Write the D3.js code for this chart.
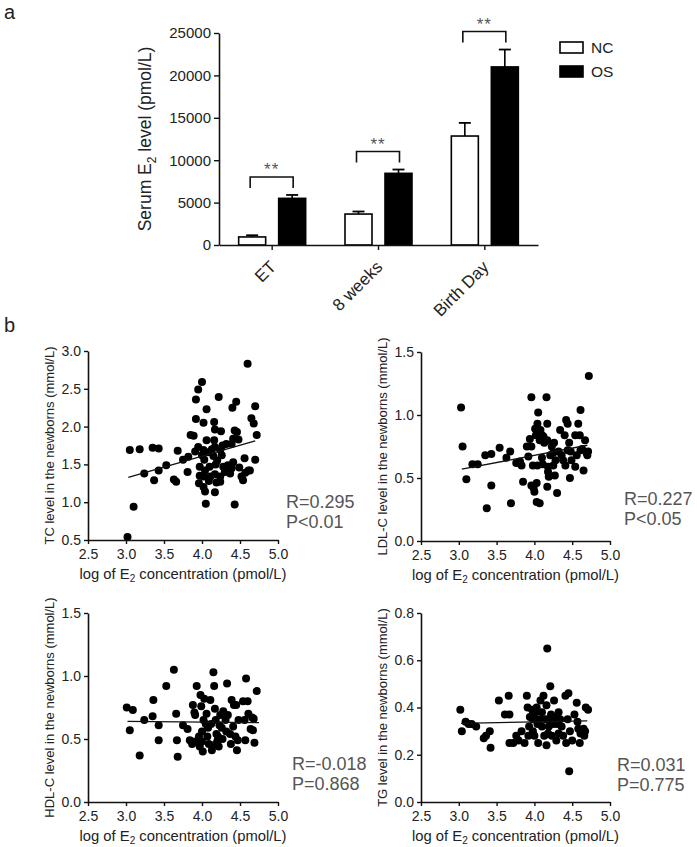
<!DOCTYPE html>
<html>
<head>
<meta charset="utf-8">
<script src="https://cdn.jsdelivr.net/npm/d3@7"></script>
<style>
  html, body { margin: 0; padding: 0; background: #fff; }
  svg { display: block; font-family: "Liberation Sans", Arial, sans-serif; }
</style>
</head>
<body>
<svg id="chart" width="697" height="847"></svg>
<script>
// ---------- Panel a data ----------
const categories = ["ET", "8 weeks", "Birth Day"];
const groups = ["NC", "OS"];
const ncMean = [950, 3650, 12850];
const ncErr = [200, 300, 1550];
const osMean = [5500, 8450, 21000];
const osErr = [400, 450, 2050];
const sigLabels = ["**", "**", "**"];
const yTicksA = [0, 5000, 10000, 15000, 20000, 25000];

// ---------- Panel b data ----------
const xTicksB = [2.5, 3.0, 3.5, 4.0, 4.5, 5.0];

const tcPoints = [
  [3.02,0.54],[3.05,1.69],[3.10,0.94],[3.18,1.70],[3.24,1.38],[3.35,1.72],[3.43,1.71],[3.37,1.29],
  [3.43,1.42],[3.53,1.49],[3.63,1.30],[3.66,1.27],[3.68,1.68],[3.75,1.56],[3.82,1.60],[3.81,1.40],
  [3.85,1.89],[3.89,1.88],[3.92,2.36],[3.92,2.10],[3.95,2.49],[4.00,2.59],[4.02,2.05],[4.06,2.23],
  [3.91,1.67],[3.95,1.73],[3.97,1.47],[3.97,1.35],[3.96,1.25],[4.00,1.62],[4.02,1.69],[4.03,1.56],
  [4.04,1.42],[4.02,1.34],[4.02,1.20],[4.04,1.14],[4.05,0.98],[4.06,1.82],[4.08,1.66],[4.10,1.47],
  [4.11,1.34],[4.15,1.61],[4.16,2.06],[4.17,1.96],[4.16,1.82],[4.17,1.73],[4.18,1.50],[4.17,1.37],
  [4.19,1.26],[4.17,1.13],[4.22,2.39],[4.24,1.69],[4.24,1.34],[4.24,1.27],[4.25,1.94],[4.27,1.75],
  [4.28,1.47],[4.30,1.40],[4.32,1.77],[4.34,1.49],[4.37,1.38],[4.39,1.45],[4.39,1.77],[4.41,1.84],
  [4.43,1.95],[4.41,1.53],[4.40,2.25],[4.45,2.33],[4.43,0.97],[4.46,1.93],[4.48,1.83],[4.49,1.46],
  [4.56,1.58],[4.57,1.39],[4.54,1.29],[4.60,2.83],[4.61,1.42],[4.65,2.11],[4.68,2.04],[4.70,2.27],
  [4.72,1.89],[4.70,1.56],[4.63,1.42],[4.52,1.34],[4.13,1.70],[4.20,1.55],[4.09,1.28],[4.26,1.62]
];
const tcFitX = [3.03, 4.70];
const tcFitY = [1.33, 1.81];

const ldlPoints = [
  [3.03,1.06],[3.05,0.75],[3.10,0.49],[3.18,0.61],[3.25,0.61],[3.35,0.68],[3.43,0.69],[3.37,0.26],
  [3.43,0.44],[3.54,0.74],[3.63,0.66],[3.68,0.71],[3.69,0.30],[3.76,0.62],[3.81,0.63],[3.83,0.60],
  [3.85,0.47],[3.90,0.75],[3.92,0.67],[3.94,0.81],[3.96,0.75],[3.96,1.14],[3.96,0.44],[3.99,0.42],
  [4.00,0.39],[3.98,0.60],[4.01,0.89],[4.02,0.84],[4.03,0.46],[4.04,0.60],[4.04,0.93],[4.05,1.02],
  [4.07,0.80],[4.08,0.88],[4.10,0.84],[4.11,0.61],[4.03,0.31],[4.07,0.30],[4.10,0.66],[4.12,0.83],
  [4.16,1.14],[4.17,0.93],[4.17,0.80],[4.18,0.59],[4.18,0.55],[4.19,0.51],[4.17,0.43],[4.23,0.75],
  [4.25,0.70],[4.26,0.78],[4.25,0.60],[4.27,0.52],[4.28,0.64],[4.30,0.38],[4.34,0.88],[4.36,0.68],
  [4.38,0.64],[4.40,0.84],[4.41,0.60],[4.42,0.96],[4.44,0.93],[4.46,0.78],[4.47,0.50],[4.48,0.71],
  [4.49,0.64],[4.54,0.84],[4.54,0.59],[4.56,0.68],[4.58,0.93],[4.60,0.84],[4.61,1.04],[4.63,0.73],
  [4.65,0.56],[4.67,0.80],[4.69,0.70],[4.71,0.71],[4.72,1.31],[4.70,0.68],[4.61,0.72],[4.44,0.72],
  [4.32,0.71],[4.21,0.68],[4.13,0.78]
];
const ldlFitX = [3.04, 4.70];
const ldlFitY = [0.57, 0.76];

const hdlPoints = [
  [3.01,0.75],[3.09,0.73],[3.05,0.57],[3.18,0.37],[3.24,0.65],[3.36,0.81],[3.35,0.68],[3.43,0.61],
  [3.43,0.49],[3.53,0.92],[3.63,1.05],[3.66,0.70],[3.67,0.49],[3.68,0.36],[3.75,0.61],[3.81,0.58],
  [3.84,0.49],[3.87,0.46],[3.88,0.77],[3.90,0.71],[3.91,0.69],[3.93,0.92],[3.96,0.52],[3.97,0.44],
  [3.98,0.85],[3.99,0.76],[4.00,0.56],[4.01,0.40],[4.02,0.65],[4.03,0.82],[4.06,0.70],[4.07,0.52],
  [4.09,0.46],[4.11,0.81],[4.12,0.62],[4.13,0.41],[4.15,1.03],[4.16,0.92],[4.17,0.74],[4.18,0.65],
  [4.19,0.54],[4.20,0.48],[4.22,0.44],[4.23,0.61],[4.24,0.69],[4.26,0.59],[4.27,0.50],[4.28,0.72],
  [4.31,0.65],[4.33,0.94],[4.34,0.69],[4.37,0.54],[4.38,0.46],[4.39,0.81],[4.41,0.60],[4.42,0.77],
  [4.44,0.52],[4.45,0.77],[4.46,0.41],[4.47,0.49],[4.48,0.65],[4.54,0.80],[4.56,0.65],[4.57,0.49],
  [4.58,0.98],[4.60,0.80],[4.61,0.70],[4.64,0.58],[4.66,0.67],[4.68,0.66],[4.69,0.47],[4.72,0.88],
  [4.67,0.57],[4.08,0.59],[4.21,0.52],[4.32,0.56],[4.00,0.48],[3.91,0.48],[4.15,0.45],[4.05,0.62]
];
const hdlFitX = [3.02, 4.75];
const hdlFitY = [0.64, 0.63];

const tgPoints = [
  [3.02,0.39],[3.04,0.30],[3.09,0.34],[3.13,0.33],[3.17,0.33],[3.23,0.32],[3.33,0.27],[3.36,0.28],
  [3.41,0.30],[3.42,0.23],[3.53,0.43],[3.61,0.37],[3.66,0.45],[3.67,0.37],[3.67,0.25],[3.72,0.25],
  [3.76,0.28],[3.79,0.26],[3.83,0.30],[3.87,0.25],[3.90,0.45],[3.91,0.40],[3.93,0.32],[3.94,0.36],
  [3.97,0.39],[3.98,0.30],[4.00,0.28],[4.01,0.35],[4.02,0.38],[4.04,0.33],[4.05,0.25],[4.08,0.43],
  [4.08,0.35],[4.10,0.32],[4.12,0.45],[4.13,0.28],[4.16,0.41],[4.16,0.24],[4.17,0.65],[4.19,0.35],
  [4.19,0.32],[4.21,0.49],[4.22,0.37],[4.23,0.28],[4.25,0.33],[4.26,0.43],[4.27,0.36],[4.29,0.26],
  [4.32,0.29],[4.34,0.35],[4.36,0.32],[4.41,0.45],[4.42,0.25],[4.44,0.35],[4.45,0.46],[4.46,0.13],
  [4.47,0.30],[4.53,0.37],[4.56,0.42],[4.57,0.34],[4.58,0.31],[4.60,0.25],[4.61,0.29],[4.65,0.31],
  [4.66,0.28],[4.67,0.30],[4.68,0.40],[4.71,0.39],[3.98,0.35],[4.15,0.35],[4.30,0.33],[4.03,0.40],
  [3.99,0.38],[3.92,0.28],[4.38,0.28],[4.50,0.26],[4.10,0.38],[4.18,0.29],[4.32,0.38]
];
const tgFitX = [3.03, 4.70];
const tgFitY = [0.333, 0.343];

// ---------- Drawing ----------
const svg = d3.select("#chart");
const FONT = "'Liberation Sans', Arial, sans-serif";

function styleAxis(g, fontSize) {
  g.select(".domain").attr("stroke", "#111").attr("stroke-width", 1.6);
  g.selectAll(".tick line").attr("stroke", "#111").attr("stroke-width", 1.4);
  g.selectAll(".tick text").attr("fill", "#222").attr("font-size", fontSize).attr("font-family", FONT);
}

// Panel labels
svg.append("text").attr("x", 4).attr("y", 19).attr("font-size", 20).attr("fill", "#222").text("a");
svg.append("text").attr("x", 4).attr("y", 332).attr("font-size", 20).attr("fill", "#222").text("b");

// ===== Panel a: bar chart =====
(function () {
  const x = d3.scaleBand().domain(categories).range([219, 538]).paddingInner(0).paddingOuter(0);
  const xg = d3.scaleBand().domain(groups).range([-33.5, 33.5]).paddingInner(0.325);
  const y = d3.scaleLinear().domain([0, 25000]).range([245, 33]);

  const g = svg.append("g");

  const means = { NC: ncMean, OS: osMean };
  const errs = { NC: ncErr, OS: osErr };
  const fills = { NC: "#ffffff", OS: "#000000" };

  categories.forEach((c, i) => {
    const cx = x(c) + x.bandwidth() / 2;
    groups.forEach(gr => {
      const v = means[gr][i], e = errs[gr][i];
      const bx = cx + xg(gr), bw = xg.bandwidth();
      g.append("line").attr("x1", bx + bw / 2).attr("x2", bx + bw / 2)
        .attr("y1", y(v)).attr("y2", y(v + e)).attr("stroke", "#000").attr("stroke-width", 1.6);
      g.append("line").attr("x1", bx + bw / 2 - 6).attr("x2", bx + bw / 2 + 6)
        .attr("y1", y(v + e)).attr("y2", y(v + e)).attr("stroke", "#000").attr("stroke-width", 1.8);
      g.append("rect").attr("x", bx).attr("y", y(v)).attr("width", bw).attr("height", y(0) - y(v))
        .attr("fill", fills[gr]).attr("stroke", "#000").attr("stroke-width", 1.6);
    });
    const x1 = cx + xg("NC") + xg.bandwidth() / 2 - 2;
    const x2 = cx + xg("OS") + xg.bandwidth() / 2 + 1;
    const top = Math.max(ncMean[i] + ncErr[i], osMean[i] + osErr[i]);
    const yb = y(top) - 18;
    g.append("path").attr("d", `M${x1},${yb + 11}V${yb}H${x2}V${yb + 11}`)
      .attr("fill", "none").attr("stroke", "#111").attr("stroke-width", 1.6);
    g.append("text").attr("x", (x1 + x2) / 2).attr("y", yb - 2).attr("text-anchor", "middle")
      .attr("font-size", 17).attr("letter-spacing", 1).attr("fill", "#555").attr("font-family", FONT).text(sigLabels[i]);
  });

  const ya = g.append("g").attr("transform", "translate(219,0)")
    .call(d3.axisLeft(y).tickValues(yTicksA).tickFormat(d3.format("d")).tickSize(5).tickSizeOuter(0).tickPadding(3));
  styleAxis(ya, 15);

  const xa = g.append("g").attr("transform", "translate(0,245)")
    .call(d3.axisBottom(x).tickSize(5).tickSizeOuter(0).tickFormat(""));
  styleAxis(xa, 15);
  categories.forEach(c => {
    const cx = x(c) + x.bandwidth() / 2;
    g.append("text").attr("transform", `translate(${cx + 5},${268}) rotate(-45)`)
      .attr("text-anchor", "end").attr("font-size", 17).attr("fill", "#222").attr("font-family", FONT).text(c);
  });

  const yt = g.append("text").attr("transform", "translate(151,139) rotate(-90)")
    .attr("text-anchor", "middle").attr("font-size", 17.5).attr("fill", "#222").attr("font-family", FONT);
  yt.append("tspan").text("Serum E");
  yt.append("tspan").attr("font-size", 12).attr("dy", 5).text("2");
  yt.append("tspan").attr("dy", -5).text(" level (pmol/L)");

  const leg = g.append("g");
  groups.forEach((gr, i) => {
    leg.append("rect").attr("x", 560).attr("y", 42 + i * 24).attr("width", 23).attr("height", 11)
      .attr("fill", fills[gr]).attr("stroke", "#000").attr("stroke-width", 1.6);
    leg.append("text").attr("x", 591).attr("y", 53 + i * 24).attr("font-size", 15.5)
      .attr("fill", "#222").attr("font-family", FONT).text(gr);
  });
})();

// ===== Panel b: scatter plots =====
function scatterPanel(cfg) {
  const x = d3.scaleLinear().domain([2.5, 5.0]).range([cfg.l, cfg.r]);
  const y = d3.scaleLinear().domain(cfg.yDomain).range([cfg.b, cfg.t]);
  const g = svg.append("g");

  g.selectAll("circle").data(cfg.points).enter().append("circle")
    .attr("cx", d => x(d[0])).attr("cy", d => y(d[1])).attr("r", 4).attr("fill", "#000");

  g.append("line").attr("x1", x(cfg.fitX[0])).attr("x2", x(cfg.fitX[1]))
    .attr("y1", y(cfg.fitY[0])).attr("y2", y(cfg.fitY[1]))
    .attr("stroke", "#111").attr("stroke-width", 1.3);

  const ya = g.append("g").attr("transform", `translate(${cfg.l},0)`)
    .call(d3.axisLeft(y).tickValues(cfg.yTicks).tickFormat(d3.format(".1f")).tickSize(4).tickSizeOuter(0).tickPadding(3));
  styleAxis(ya, 14);
  const xa = g.append("g").attr("transform", `translate(0,${cfg.b})`)
    .call(d3.axisBottom(x).tickValues(xTicksB).tickFormat(d3.format(".1f")).tickSize(4).tickSizeOuter(0).tickPadding(5));
  styleAxis(xa, 14);

  g.append("text").attr("transform", `translate(${cfg.l - 34},${(cfg.t + cfg.b) / 2}) rotate(-90)`)
    .attr("text-anchor", "middle").attr("font-size", 13).attr("fill", "#222").attr("font-family", FONT)
    .text(cfg.yTitle);

  const xt = g.append("text").attr("x", (cfg.l + cfg.r) / 2).attr("y", cfg.b + 39)
    .attr("text-anchor", "middle").attr("font-size", 14.8).attr("fill", "#222").attr("font-family", FONT);
  xt.append("tspan").text("log of E");
  xt.append("tspan").attr("font-size", 10).attr("dy", 3).text("2");
  xt.append("tspan").attr("dy", -3).text(" concentration (pmol/L)");

  g.append("text").attr("x", cfg.sx).attr("y", cfg.sy).attr("font-size", 18).attr("fill", "#555")
    .attr("font-family", FONT).text(cfg.rText);
  g.append("text").attr("x", cfg.sx).attr("y", cfg.sy + 20).attr("font-size", 18).attr("fill", "#555")
    .attr("font-family", FONT).text(cfg.pText);
}

scatterPanel({ points: tcPoints, fitX: tcFitX, fitY: tcFitY, yDomain: [0.5, 3.0],
  yTicks: [0.5, 1.0, 1.5, 2.0, 2.5, 3.0], l: 88, r: 278, t: 351, b: 540,
  yTitle: "TC level in the newborns (mmol/L)", rText: "R=0.295", pText: "P<0.01", sx: 286, sy: 508 });

scatterPanel({ points: ldlPoints, fitX: ldlFitX, fitY: ldlFitY, yDomain: [0, 1.5],
  yTicks: [0.0, 0.5, 1.0, 1.5], l: 421, r: 610, t: 352, b: 541,
  yTitle: "LDL-C level in the newborns (mmol/L)", rText: "R=0.227", pText: "P<0.05", sx: 624, sy: 505 });

scatterPanel({ points: hdlPoints, fitX: hdlFitX, fitY: hdlFitY, yDomain: [0, 1.5],
  yTicks: [0.0, 0.5, 1.0, 1.5], l: 88, r: 278, t: 613, b: 802,
  yTitle: "HDL-C level in the newborns (mmol/L)", rText: "R=-0.018", pText: "P=0.868", sx: 292, sy: 770 });

scatterPanel({ points: tgPoints, fitX: tgFitX, fitY: tgFitY, yDomain: [0, 0.8],
  yTicks: [0.0, 0.2, 0.4, 0.6, 0.8], l: 421, r: 610, t: 613, b: 802,
  yTitle: "TG level in the newborns (mmol/L)", rText: "R=0.031", pText: "P=0.775", sx: 617, sy: 771 });
</script>
</body>
</html>
